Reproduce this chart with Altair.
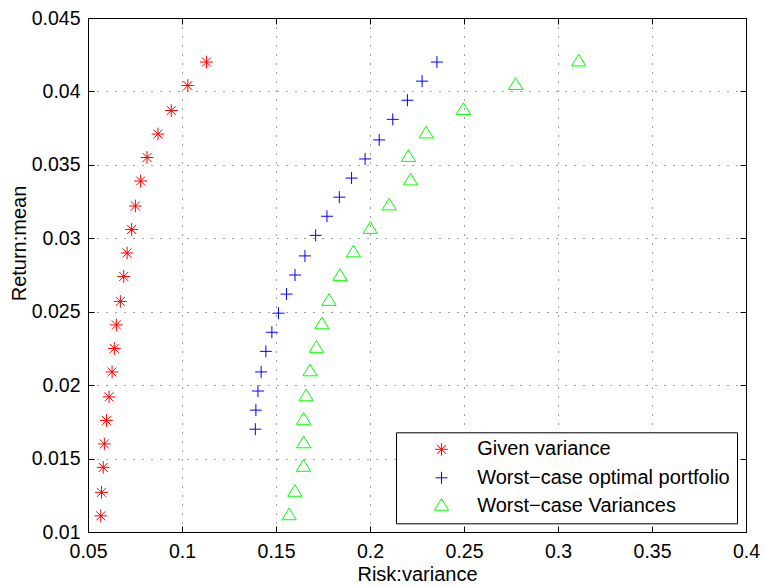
import altair as alt
import pandas as pd

# ---------------- data ----------------
series_names = ["Given variance", "Worst\u2212case optimal portfolio", "Worst\u2212case Variances"]

red_x = [0.0568, 0.0572, 0.0581, 0.0587, 0.0598, 0.0612, 0.0628, 0.0640, 0.0651, 0.0672,
         0.0690, 0.0708, 0.0732, 0.0752, 0.0780, 0.0814, 0.0872, 0.0943, 0.1031, 0.1130]
red_y = [0.0111, 0.0127, 0.0144, 0.0160, 0.0176, 0.0192, 0.0209, 0.0225, 0.0241, 0.0257,
         0.0274, 0.0290, 0.0306, 0.0322, 0.0339, 0.0355, 0.0371, 0.0387, 0.0404, 0.0420]

blue_x = [0.1390, 0.1393, 0.1404, 0.1421, 0.1446, 0.1478, 0.1513, 0.1556, 0.1601, 0.1654,
          0.1711, 0.1771, 0.1837, 0.1902, 0.1974, 0.2049, 0.2121, 0.2199, 0.2277, 0.2356]
blue_y = [0.0170, 0.0183, 0.0196, 0.0209, 0.0223, 0.0236, 0.0249, 0.0262, 0.0275, 0.0288,
          0.0302, 0.0315, 0.0328, 0.0341, 0.0354, 0.0367, 0.0381, 0.0394, 0.0407, 0.0420]

green_x = [0.1570, 0.1600, 0.1646, 0.1647, 0.1647, 0.1660, 0.1681, 0.1715, 0.1744, 0.1782,
           0.1840, 0.1912, 0.2001, 0.2102, 0.2216, 0.2204, 0.2299, 0.2497, 0.2775, 0.3110]
green_y = [0.0111, 0.0127, 0.0144, 0.0160, 0.0176, 0.0192, 0.0209, 0.0225, 0.0241, 0.0257,
           0.0274, 0.0290, 0.0306, 0.0322, 0.0339, 0.0355, 0.0371, 0.0387, 0.0404, 0.0420]

x_ticks = [0.05, 0.1, 0.15, 0.2, 0.25, 0.3, 0.35, 0.4]
y_ticks = [0.01, 0.015, 0.02, 0.025, 0.03, 0.035, 0.04, 0.045]

series_colors = ["#ff0000", "#0000ff", "#00ff00"]

rows = []
for name, xs, ys in zip(series_names, [red_x, blue_x, green_x], [red_y, blue_y, green_y]):
    for xv, yv in zip(xs, ys):
        rows.append({"series": name, "x": xv, "y": yv})
df = pd.DataFrame(rows)

# ---------------- styling ----------------
FONT = "Liberation Sans"
ASTERISK = "M-1.06,0L1.06,0M0,-1.06L0,1.06M-0.75,-0.75L0.75,0.75M-0.75,0.75L0.75,-0.75"
PLUS = "M-1,0L1,0M0,-1L0,1"
TRI = "M0,-1.3L1.19,0.65L-1.19,0.65Z"

xscale = alt.Scale(domain=[0.05, 0.4], nice=False, zero=False)
yscale = alt.Scale(domain=[0.01, 0.045], nice=False, zero=False)

legend = alt.Legend(
    title=None, orient="none", legendX=308, legendY=414.3,
    padding=7, strokeColor="black", fillColor="white", cornerRadius=0,
    symbolSize=144, symbolStrokeWidth=1, symbolOffset=28.5, labelOffset=25.7,
    labelFont=FONT, labelFontSize=20, labelColor="black", rowPadding=8.5,
    labelLimit=400,
)

main_x_axis = alt.Axis(
    orient="bottom", values=x_ticks, format="~g", grid=True, gridDash=[1, 8],
    gridColor="#000", gridOpacity=0.75, gridWidth=1, ticks=False, tickSize=0,
    domain=False, labelFont=FONT, labelFontSize=19.5, labelColor="black",
    labelPadding=10.5, labelFlush=False, labelOverlap=False,
    title="Risk:variance", titleFont=FONT, titleFontSize=20, titleFontWeight="normal",
    titleColor="black", titleBaseline="alphabetic", titleY=48.7,
)
main_y_axis = alt.Axis(
    orient="left", values=y_ticks, format="~g", grid=True, gridDash=[1, 8],
    gridColor="#000", gridOpacity=0.75, gridWidth=1, ticks=False, tickSize=0,
    domain=False, labelFont=FONT, labelFontSize=19.5, labelColor="black",
    labelPadding=8, labelFlush=False, labelOverlap=False,
    title="Return:mean", titleFont=FONT, titleFontSize=20, titleFontWeight="normal",
    titleColor="black", titleBaseline="alphabetic", titleAngle=270,
    titleX=-63, titleY=225,
)

def tick_axis(orient, values):
    return alt.Axis(
        orient=orient, offset=-6, values=values, labels=False, grid=False,
        domain=False, ticks=True, tickSize=6, tickColor="black", tickWidth=1,
        title=None,
    )

points = alt.Chart(df).mark_point(filled=False, strokeWidth=1, opacity=1, size=144).encode(
    x=alt.X("x:Q", scale=xscale, axis=main_x_axis),
    y=alt.Y("y:Q", scale=yscale, axis=main_y_axis),
    color=alt.Color("series:N", scale=alt.Scale(domain=series_names, range=series_colors), legend=legend),
    shape=alt.Shape("series:N", scale=alt.Scale(domain=series_names, range=[ASTERISK, PLUS, TRI]), legend=legend),
)

ticks_bl = alt.Chart(df).mark_point(opacity=0).encode(
    x=alt.X("x:Q", scale=xscale, axis=tick_axis("bottom", x_ticks)),
    y=alt.Y("y:Q", scale=yscale, axis=tick_axis("left", y_ticks)),
)
ticks_tr = alt.Chart(df).mark_point(opacity=0).encode(
    x=alt.X("x:Q", scale=xscale, axis=tick_axis("top", x_ticks)),
    y=alt.Y("y:Q", scale=yscale, axis=tick_axis("right", y_ticks)),
)

chart = (
    alt.layer(ticks_bl, ticks_tr, points)
    .resolve_axis(x="independent", y="independent")
    .properties(
        width=658, height=514,
        autosize=alt.AutoSizeParams(type="none"),
        padding={"left": 80, "top": 10, "right": 15, "bottom": 55},
        background="white",
    )
    .configure_view(stroke="black", strokeWidth=1)
)

chart.save("out.html", embed_options={"renderer": "svg", "actions": False})
